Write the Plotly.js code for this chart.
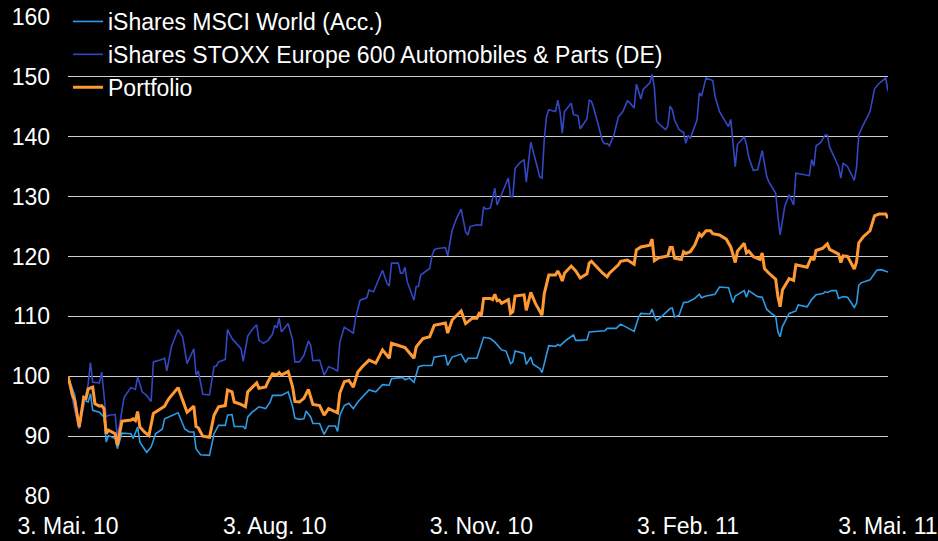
<!DOCTYPE html>
<html>
<head>
<meta charset="utf-8">
<script src="https://cdn.plot.ly/plotly-3.0.1.min.js"></script>
<style>html,body{margin:0;padding:0;background:#000;}#chart{width:938px;height:541px;}</style>
</head>
<body>
<div id="chart"></div>
<script>
// Days since 3 May 2010, values indexed to 100
const worldDays = [0,2,3,5,7,9,10,11,14,16,17,18,21,22,24,28,29,31,32,35,37,39,42,43,49,52,54,56,57,59,63,65,67,70,71,73,74,78,79,80,82,85,88,90,91,95,98,100,101,103,105,106,108,109,112,114,116,119,120,121,123,125,127,129,134,137,140,143,144,149,150,152,154,156,158,162,163,168,169,171,175,177,178,182,183,185,188,190,193,195,197,198,199,203,204,206,207,210,211,214,217,218,219,222,225,226,228,231,232,239,240,244,246,248,252,254,255,259,260,261,262,264,267,268,269,270,272,274,276,279,281,282,284,288,290,294,296,297,301,302,303,307,309,311,313,315,316,317,318,321,324,325,329,331,333,336,337,338,340,342,343,345,347,350,351,352,353,357,360,362,365];
const worldVals = [100,97.7,96.8,91.5,96.0,95.7,97.1,94.3,94.0,93.2,89.0,90.1,89.6,87.9,90.5,90.4,89.6,91.5,89.0,87.3,88.2,90.4,91.2,92.9,93.9,91.2,90.7,90.7,87.9,86.9,86.8,90.4,91.8,91.8,93.5,93.6,91.6,91.6,91.2,93.2,94.0,94.9,94.6,95.7,96.8,96.8,97.4,94.9,93.0,92.8,92.9,94.2,93.2,92.1,92.1,90.3,91.7,91.7,90.8,93.5,95.1,95.5,94.6,95.7,97.7,97.4,98.6,98.5,99.6,99.8,99.4,99.7,99.0,101.6,101.8,101.8,103.2,103.5,101.8,103.2,103.7,102.3,103.0,103.0,104.1,106.5,106.3,105.7,104.4,104.2,102.1,102.4,104.2,103.8,102.0,103.2,102.0,101.3,100.6,105.1,105.0,105.3,105.1,106.1,106.9,106.0,106.0,106.1,107.4,107.6,108.0,108.0,108.7,108.3,107.5,109.9,110.5,110.4,111.2,110.0,109.3,109.9,110.9,111.3,111.4,109.9,110.2,112.3,112.4,113.0,113.7,113.1,113.4,113.7,114.9,114.8,112.3,113.4,114.3,113.2,114.3,113.3,113.2,111.2,110.5,110.0,107.4,106.6,108.3,110.5,110.9,111.9,111.6,112.8,113.6,113.8,114.1,114.0,114.3,114.3,113.0,113.3,113.2,111.5,112.2,115.2,115.6,116.1,117.7,117.8,117.4];

const autoDays = [0,2,3,5,8,9,10,11,14,15,17,18,21,22,25,28,30,31,33,35,37,38,41,43,44,46,49,51,53,56,57,58,60,63,65,66,67,70,71,73,77,78,80,82,84,85,87,89,91,92,93,94,95,98,100,101,103,105,107,108,109,112,114,116,118,120,121,123,127,128,130,133,134,136,140,142,143,144,147,148,149,150,151,154,155,156,157,161,162,163,164,168,169,171,173,175,177,178,179,182,184,185,186,188,190,191,196,197,198,199,201,203,204,206,208,210,211,212,213,214,217,218,219,220,221,224,225,227,228,231,232,233,234,238,239,240,241,243,245,247,249,250,252,253,255,256,259,260,261,262,264,266,267,268,269,270,272,274,275,276,277,279,280,281,282,284,287,288,290,293,294,295,297,298,301,302,303,305,307,309,311,312,315,316,317,319,321,323,324,330,331,332,333,335,337,338,339,343,344,345,347,350,351,352,354,357,359,361,364,365];
const autoVals = [100,96.0,94.3,91.2,96.5,98.8,102.3,99.0,98.9,100.7,93.2,93.5,93.6,89.8,96.5,98.1,97.8,99.9,97.4,96.8,95.8,102.4,102.7,103.0,100.9,104.9,107.8,106.6,102.1,104.6,100.2,100.9,97.0,96.9,101.6,101.7,102.4,102.8,107.8,106.3,104.6,102.5,106.7,107.8,108.6,106.0,105.5,106.0,107.0,108.5,108.1,109.7,107.4,108.8,106.0,102.4,102.4,103.5,105.9,105.2,102.6,102.7,100.2,101.6,101.3,100.9,105.7,108.2,107.2,109.7,112.7,113.1,114.4,114.1,117.7,115.5,115.1,118.9,118.9,117.2,117.2,118.2,115.8,112.7,115.0,115.0,116.9,118.0,120.1,121.1,121.3,121.5,120.1,124.4,126.4,127.9,124.1,123.6,125.0,125.3,125.2,128.3,127.9,128.1,131.4,128.6,133.1,130.0,130.0,134.7,135.6,136.2,132.4,139.1,136.2,133.3,133.1,139.5,143.4,144.5,144.2,146.1,144.2,140.6,144.2,145.6,143.7,143.5,141.3,143.0,146.1,145.9,144.8,139.2,138.8,138.9,138.5,140.3,143.3,144.2,146.0,145.7,144.8,148.8,146.3,147.9,149.0,150.4,148.2,142.6,141.8,141.2,141.8,145.1,144.5,142.8,141.2,140.7,138.9,140.2,139.8,142.0,142.8,147.3,146.8,149.8,149.4,146.8,144.2,142.3,141.7,142.9,135.0,138.7,140.0,138.7,136.6,134.4,134.5,137.7,133.4,132.4,130.6,126.7,123.6,128.3,130.3,128.6,133.9,133.5,136.2,135.1,138.5,139.0,140.3,140.3,138.3,135.0,133.1,135.6,135.0,132.7,134.9,140.3,142.0,144.2,148.0,148.9,149.8,147.6];

const portDays = [0,2,3,5,7,8,9,11,12,14,15,16,17,18,21,22,24,28,29,30,31,32,34,36,38,41,43,44,45,49,53,54,56,57,58,60,63,65,67,70,71,73,74,77,79,80,82,84,85,88,89,91,93,94,95,98,100,101,103,105,107,108,109,112,114,116,118,120,121,123,125,127,129,131,134,137,140,142,143,144,147,150,154,155,158,161,163,168,169,171,175,177,180,182,183,184,185,188,189,190,191,192,193,195,196,197,198,199,203,204,206,208,211,212,214,217,218,219,220,221,224,226,228,231,232,233,238,240,241,245,246,249,250,252,253,255,259,260,261,263,267,268,269,270,273,274,275,277,279,281,282,284,286,287,290,293,295,297,298,301,302,303,305,308,309,310,312,315,316,317,318,321,323,324,329,331,332,333,336,338,339,343,344,345,347,350,351,352,354,357,359,361,364,365];
const portVals = [100,96.8,96.0,91.5,96.5,96.3,97.9,98.2,95.4,95.0,95.1,94.6,90.4,91.0,90.4,88.5,92.5,92.7,92.9,92.6,94.1,91.5,90.7,90.1,93.8,94.6,95.0,95.7,96.3,98.1,94.0,94.3,95.0,91.6,91.4,90.0,89.8,93.5,94.9,95.1,97.7,97.4,95.7,95.3,94.9,97.4,98.2,98.9,98.0,98.2,99.1,100.4,100.2,100.6,100.2,100.8,98.2,95.8,95.7,96.3,97.8,96.5,95.3,95.1,93.5,94.6,94.3,93.9,97.2,99.1,99.3,98.2,100.7,101.6,102.7,102.2,104.4,103.5,103.0,105.5,105.2,104.8,103.0,104.9,106.3,106.6,108.5,108.9,107.2,109.4,110.9,108.8,109.7,109.7,110.5,110.2,113.0,113.0,112.8,113.7,112.6,112.7,112.2,112.6,112.8,110.5,110.8,113.4,113.6,111.0,114.0,112.2,110.2,113.8,116.9,116.9,117.6,116.9,115.9,117.2,118.4,117.6,116.4,117.1,118.9,119.2,117.2,116.6,117.2,118.6,119.2,119.4,119.2,118.7,121.1,121.6,121.9,122.9,119.3,119.8,120.1,121.5,121.5,119.7,119.5,120.8,120.5,120.8,121.9,123.8,123.4,124.3,124.3,123.8,123.6,122.9,121.6,119.0,120.9,122.2,120.6,120.9,120.0,119.5,120.6,118.0,117.2,116.2,113.3,111.6,114.4,116.3,116.0,118.6,118.2,120.0,119.4,121.0,121.4,122.1,121.2,120.4,119.0,120.1,120.0,117.9,119.1,122.3,123.3,124.3,126.8,127.1,127.1,126.4];

const seriesNames = ['iShares MSCI World (Acc.)','iShares STOXX Europe 600 Automobiles & Parts (DE)','Portfolio'];
const tickDays = [0,92,184,276,365];
const tickLabels = ['3. Mai. 10','3. Aug. 10','3. Nov. 10','3. Feb. 11','3. Mai. 11'];
const yTicks = [80,90,100,110,120,130,140,150,160];

const start = Date.UTC(2010,4,3);
const toDate = d => new Date(start + d*86400000).toISOString().slice(0,10);

const fam = '"Liberation Sans", Arial, sans-serif';

const traces = [
  {x: worldDays.map(toDate), y: worldVals, name: seriesNames[0], type:'scatter', mode:'lines',
   line:{color:'#2f9ae6', width:1.6}},
  {x: autoDays.map(toDate), y: autoVals, name: seriesNames[1], type:'scatter', mode:'lines',
   line:{color:'#3447c4', width:1.6}},
  {x: portDays.map(toDate), y: portVals, name: seriesNames[2], type:'scatter', mode:'lines',
   line:{color:'#ff9933', width:3}}
];

const layout = {
  width:938, height:541,
  paper_bgcolor:'#000000', plot_bgcolor:'#000000',
  margin:{l:68, r:50, t:17, b:45, autoexpand:false},
  font:{family:fam, color:'#ffffff', size:23},
  showlegend:true,
  hovermode:false,
  legend:{x:0, y:1, xref:'paper', yref:'container', xanchor:'left', yanchor:'top', bgcolor:'rgba(0,0,0,0)',
          font:{family:fam, color:'#ffffff', size:23}, tracegroupgap:0},
  xaxis:{type:'date', range:[toDate(0), toDate(365)], tickvals: tickDays.map(toDate), ticktext: tickLabels,
         showgrid:false, zeroline:false, showline:false, ticks:'', ticklabelstandoff:14, automargin:false,
         tickfont:{family:fam, color:'#ffffff', size:23}},
  yaxis:{range:[80,160], tickvals:yTicks, showgrid:true, gridcolor:'#d0d0d0', gridwidth:1,
         zeroline:false, showline:false, ticks:'', ticklabelstandoff:17, automargin:false,
         tickfont:{family:fam, color:'#ffffff', size:23}},
  shapes:[
    {type:'rect', layer:'between', xref:'paper', yref:'y', x0:0, x1:(745-68)/820, y0:141, y1:161,
     fillcolor:'#000000', line:{width:0}},
    {type:'rect', layer:'between', xref:'paper', yref:'y', x0:-0.01, x1:1.01, y0:79, y1:80.5,
     fillcolor:'#000000', line:{width:0}}
  ]
};

Plotly.newPlot('chart', traces, layout, {displayModeBar:false, staticPlot:true});
</script>
</body>
</html>
